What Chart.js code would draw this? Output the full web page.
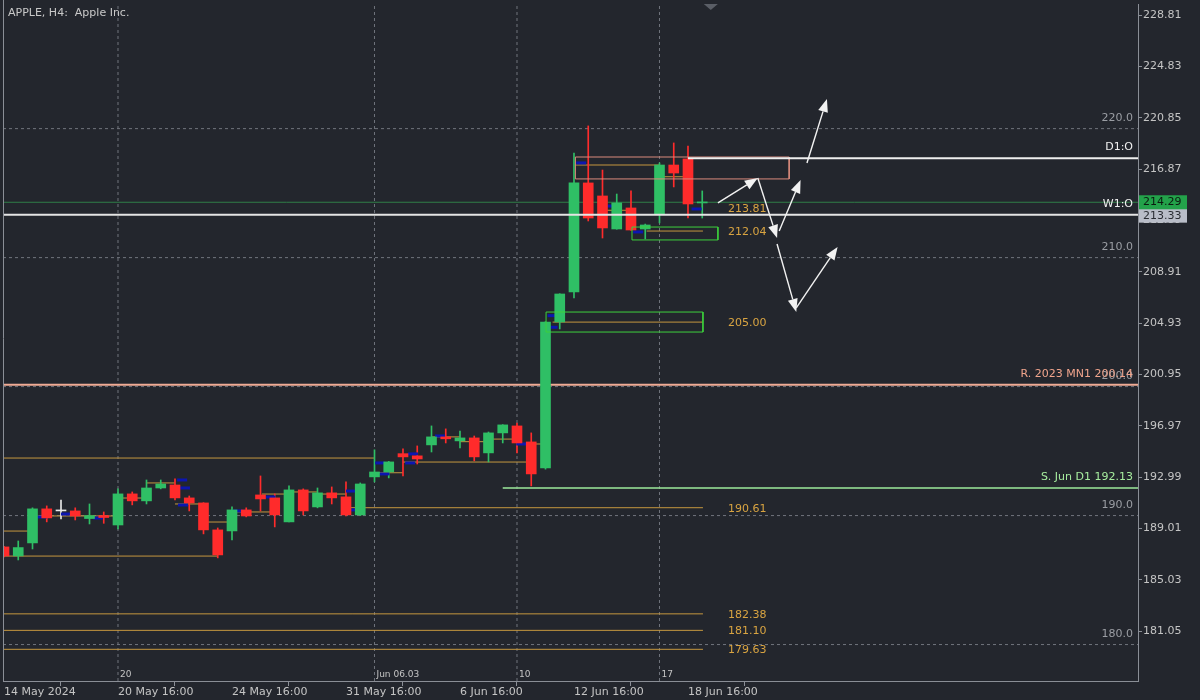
<!DOCTYPE html>
<html><head><meta charset="utf-8">
<script src="https://cdn.jsdelivr.net/npm/chart.js@4.4.1/dist/chart.umd.min.js"></script>
<style>html,body{margin:0;padding:0;background:#23262d;overflow:hidden;width:1200px;height:700px;position:relative}canvas{display:block;background:#23262d;position:absolute;left:-5px;top:-4px}</style>
</head><body>
<canvas id="c" width="1205" height="705"></canvas>
<script>
// ---------- DATA ----------
const opens  = [187.57,186.87,187.88,190.52,190.36,190.36,189.77,190.00,189.27,191.68,191.14,192.14,192.37,191.37,190.98,188.89,188.81,190.44,191.60,191.37,189.51,191.99,190.67,191.76,191.45,190.05,193.00,193.38,194.80,194.63,195.48,196.10,195.79,196.02,194.86,196.41,196.95,195.71,193.69,205.01,207.34,215.79,214.78,212.22,213.85,212.22,213.38,217.18,217.65,214.24];
const highs  = [187.62,188.03,190.60,190.75,191.21,190.60,190.90,190.28,192.07,191.83,192.76,192.76,192.84,191.52,191.00,189.04,190.67,190.60,193.07,191.68,192.30,192.07,192.14,192.22,192.61,192.53,195.10,194.20,195.17,195.40,196.95,196.72,196.56,196.17,196.48,197.05,197.18,196.41,205.03,207.20,218.11,220.21,216.79,214.93,215.17,212.60,217.34,218.89,218.65,215.17];
const lows   = [186.80,186.56,187.41,189.51,189.74,189.66,189.35,189.40,188.97,190.83,190.90,192.07,191.21,190.36,188.58,186.72,188.11,189.90,190.36,189.12,189.50,190.05,190.60,190.90,189.97,190.00,192.61,192.92,193.07,194.00,194.93,195.63,195.24,194.24,194.16,195.63,194.86,192.30,193.60,204.47,206.87,212.84,211.52,212.20,212.10,211.45,212.69,215.48,213.07,213.07];
const closes = [186.87,187.52,190.52,189.82,190.36,189.97,190.00,189.85,191.68,191.14,192.14,192.45,191.37,190.98,188.89,186.95,190.44,189.97,191.29,190.05,191.99,190.36,191.76,191.37,190.05,192.45,193.38,194.16,194.55,194.39,196.10,195.95,196.02,194.55,196.41,197.03,195.63,193.23,205.01,207.18,215.79,213.07,212.30,214.24,212.14,212.53,217.18,216.56,214.16,214.29];

const xTickIdx    = [0,8,16,24,32,40,48];
const xTickLabels = ['14 May 2024','20 May 16:00','24 May 16:00','31 May 16:00','6 Jun 16:00','12 Jun 16:00','18 Jun 16:00'];
const sepIdx      = [8,26,36,46];
const sepLabels   = ['20','Jun 06.03','10','17'];
const yTicks      = [181.05,185.03,189.01,192.99,196.97,200.95,204.93,208.91,212.89,216.87,220.85,224.83,228.81];
const gridLevels  = [180,190,200,210,220];

// orange segments: [fromIdx, toIdx, price]
const orangeSegs = [
 [-0.07,1.97,188.80],[1.97,7.93,189.97],[8,9.96,191.36],[9.96,12,192.53],[12,13.96,190.90],
 [13.96,16,189.50],[16,18.95,190.28],[18.1,19.93,191.67],[20,21.96,191.83],[21.96,24,191.67],
 [26,28,193.32],[28,37,194.15],[30,32,196.10],[32,34,195.73],[34,36,195.93],[36,38,195.55],
 [40.1,46,217.18],[46,48,216.27],[42,44,213.67],[45.1,49.05,212.06],[38.5,49.05,205.00],
 [-0.07,26,194.46],[-0.07,15,186.86],[24,49.05,190.61],
 [-0.07,49.05,182.38],[-0.07,49.05,181.10],[-0.07,49.05,179.63]
];
const levelLabels = [213.81,212.04,205.00,190.61,182.38,181.10,179.63];
const levelLabelIdx = 50.8;

const bidPrice = 214.29;
const w1Open = 213.33;
const d1Open = 217.70, d1From = 48;
const resPrice = 200.14;
const supPrice = 192.13, supFrom = 35;

// boxes: [x0, x1, topPrice, bottomPrice]
const salmonBox = [40.1,55.1,217.80,216.10];
const greenBoxes = [[44.07,50.1,212.37,211.37],[38.04,49.05,205.78,204.23]];

// arrows: [x0,p0,x1,p1]
const arrows = [
 [50.1,214.24,52.9,216.17],
 [52.9,216.17,54.25,211.52],
 [54.4,212.07,55.9,216.02],
 [54.25,211.06,55.6,205.79],
 [55.6,206.10,58.5,210.83],
 [56.35,217.34,57.75,222.30]
];

const blueMarks = [[2.67,189.89],[4.35,190.12],[6.6,189.81],[12.5,192.76],[12.7,192.14],[12.56,190.82],[16.4,190.36],[18.7,191.44],[24.35,191.9],[24.3,190.44],[26.4,194.08],[26.7,193.23],[28.5,194.08],[28.7,194.78],[30.6,196.17],[36.3,195.55],[40.5,217.34],[42.5,214.0],[44.5,211.99],[48.6,213.77],[38.5,205.5],[38.5,204.6]];

// ---------- CONFIG ----------
const X_MIN=-0.07, X_MAX=79.58, Y_MIN=177.174, Y_MAX=229.663;
const GREEN='#2fbf65', RED='#ff2b2b', DOJI='#e8e8e8';
const FONT='"DejaVu Sans", sans-serif';

function candleColor(i){ return closes[i]>opens[i]?GREEN:(closes[i]<opens[i]?RED:DOJI); }
function segPoints(segs){ const pts=[]; segs.forEach(([a,b,p])=>{pts.push({x:a,y:p},{x:b,y:p},{x:b,y:null});}); return pts; }
function boxPoints([x0,x1,t,b]){ return [{x:x0,y:t},{x:x1,y:t},{x:x1,y:b},{x:x0,y:b},{x:x0,y:t}]; }
function lineDs(data,color,width,extra){ return Object.assign({type:'line',data,borderColor:color,borderWidth:width,pointRadius:0,fill:false,spanGaps:false,tension:0},extra||{}); }

const idx = opens.map((_,i)=>i);
const datasets = [
  lineDs(gridLevels.flatMap(v=>[{x:X_MIN,y:v},{x:X_MAX,y:v},{x:X_MAX,y:null}]),'#70747c',1,{borderDash:[3,3],order:100}),
  lineDs(sepIdx.flatMap(v=>[{x:v,y:Y_MIN},{x:v,y:Y_MAX},{x:v,y:null}]),'#70747c',1,{borderDash:[3,3],order:100}),
  lineDs(segPoints(orangeSegs),'#c4963e',1,{order:60}),
  lineDs([{x:X_MIN,y:resPrice},{x:X_MAX,y:resPrice}],'#f0ab95',2,{order:55}),
  lineDs([{x:supFrom,y:supPrice},{x:X_MAX,y:supPrice}],'#9be89b',1.5,{order:55}),
  lineDs([{x:X_MIN,y:bidPrice},{x:X_MAX,y:bidPrice}],'#2f7d47',1,{order:55}),
  lineDs([{x:X_MIN,y:w1Open},{x:X_MAX,y:w1Open}],'#e4e4e4',2,{order:8}),
  lineDs([{x:d1From,y:d1Open},{x:X_MAX,y:d1Open}],'#eeeeee',2,{order:8}),
  lineDs(boxPoints(salmonBox),'#d98a7c',1,{order:9}),
  ...greenBoxes.map(b=>lineDs(boxPoints(b),'#3ccf3c',1,{order:9})),
  {type:'line',data:blueMarks.map(([x,y])=>({x,y})),showLine:false,pointStyle:'line',pointRadius:5,pointBorderWidth:3,pointBorderColor:'#0c16b0',pointBackgroundColor:'#0c16b0',order:15},
  {type:'bar',data:idx.map(i=>({x:i,y:[lows[i],highs[i]]})),backgroundColor:c=>candleColor(c.dataIndex),barThickness:1,grouped:false,order:20},
  {type:'bar',data:idx.map(i=>({x:i,y:[opens[i],closes[i]]})),backgroundColor:c=>candleColor(c.dataIndex),barThickness:10,minBarLength:1,grouped:false,order:10}
];

const overlay = {
  id:'overlay',
  afterDatasetsDraw(chart){
    const {ctx, chartArea:a, scales:{x,y}} = chart;
    ctx.save();
    ctx.beginPath(); ctx.rect(a.left,a.top,a.right-a.left,a.bottom-a.top); ctx.clip();
    ctx.strokeStyle='#f2f2f2'; ctx.fillStyle='#f2f2f2'; ctx.lineWidth=1.4;
    arrows.forEach(([x0,p0,x1,p1])=>{
      const X0=x.getPixelForValue(x0),Y0=y.getPixelForValue(p0),X1=x.getPixelForValue(x1),Y1=y.getPixelForValue(p1);
      const ang=Math.atan2(Y1-Y0,X1-X0),L=13,W=5;
      const bx=X1-L*Math.cos(ang),by=Y1-L*Math.sin(ang);
      ctx.beginPath();ctx.moveTo(X0,Y0);ctx.lineTo(bx,by);ctx.stroke();
      ctx.beginPath();ctx.moveTo(X1,Y1);ctx.lineTo(bx+W*Math.sin(ang),by-W*Math.cos(ang));ctx.lineTo(bx-W*Math.sin(ang),by+W*Math.cos(ang));ctx.closePath();ctx.fill();
    });
    ctx.font='11px '+FONT; ctx.textBaseline='middle'; ctx.textAlign='left'; ctx.fillStyle='#d9a441';
    levelLabels.forEach(p=>ctx.fillText(p.toFixed(2),x.getPixelForValue(levelLabelIdx),y.getPixelForValue(p)+1));
    ctx.textAlign='right';
    const rx=a.right-5;
    ctx.fillStyle='#9a9da3';
    gridLevels.forEach(v=>ctx.fillText(v.toFixed(1),rx,y.getPixelForValue(v)-10));
    const rl=[['D1:O',d1Open,'#f0f0f0'],['W1:O',w1Open,'#f0f0f0'],['R. 2023 MN1 '+resPrice.toFixed(2),resPrice,'#f0a48c'],['S. Jun D1 '+supPrice.toFixed(2),supPrice,'#a6ec9e']];
    rl.forEach(([t,p,c])=>{ctx.fillStyle=c;ctx.fillText(t,rx,y.getPixelForValue(p)-11);});
    ctx.font='9px '+FONT; ctx.textAlign='left'; ctx.fillStyle='#c4c4c4';
    sepIdx.forEach((v,i)=>ctx.fillText(sepLabels[i],x.getPixelForValue(v)+2,a.bottom-6));
    ctx.restore();
  },
  afterDraw(chart){
    const {ctx, chartArea:a, scales:{x,y}} = chart;
    ctx.save();
    ctx.font='11px '+FONT; ctx.textBaseline='middle'; ctx.textAlign='left';
    const bx=a.right+1;
    let py=y.getPixelForValue(w1Open)+1;
    ctx.fillStyle='#b9bdc8'; ctx.fillRect(bx,py-7,48,14);
    ctx.fillStyle='#2a2d33'; ctx.fillText(w1Open.toFixed(2),bx+4,py);
    py=y.getPixelForValue(bidPrice);
    ctx.fillStyle='#23a24a'; ctx.fillRect(bx,py-7,48,14);
    ctx.fillStyle='#0c1a10'; ctx.fillText(bidPrice.toFixed(2),bx+4,py);
    ctx.fillStyle='#c8c8c8'; ctx.textBaseline='alphabetic';
    ctx.fillText('APPLE, H4:  Apple Inc.',a.left+5,a.top+12);
    const tx=x.getPixelForValue(49.6);
    ctx.fillStyle='#5a5e66'; ctx.beginPath(); ctx.moveTo(tx-7,a.top); ctx.lineTo(tx+7,a.top); ctx.lineTo(tx,a.top+6); ctx.closePath(); ctx.fill();
    ctx.strokeStyle='#8a8e96'; ctx.lineWidth=1;
    ctx.beginPath(); ctx.moveTo(a.left+0.5,0); ctx.lineTo(a.left+0.5,a.bottom); ctx.stroke();
    ctx.restore();
  }
};

new Chart(document.getElementById('c'),{
  type:'bar',
  data:{datasets},
  options:{
    responsive:false, animation:false, devicePixelRatio:1,
    layout:{padding:{left:3,top:3,right:0,bottom:0}},
    plugins:{legend:{display:false},tooltip:{enabled:false}},
    scales:{
      x:{type:'linear',min:X_MIN,max:X_MAX,offset:false,
        afterBuildTicks:s=>{s.ticks=xTickIdx.map(v=>({value:v}));},
        afterFit:s=>{s.height=20;},
        ticks:{autoSkip:false,maxRotation:0,align:'start',padding:0,color:'#c4c4c4',font:{family:FONT,size:11},callback:(v,i)=>xTickLabels[i]},
        grid:{display:true,drawOnChartArea:false,drawTicks:true,tickLength:5,color:'#8a8e96'},
        border:{display:true,color:'#8a8e96'}},
      y:{type:'linear',position:'right',min:Y_MIN,max:Y_MAX,
        afterBuildTicks:s=>{s.ticks=yTicks.map(v=>({value:v}));},
        afterFit:s=>{s.width=62;},
        ticks:{autoSkip:false,padding:1,color:'#c4c4c4',font:{family:FONT,size:11},callback:v=>Number(v).toFixed(2)},
        grid:{display:true,drawOnChartArea:false,drawTicks:true,tickLength:4,color:'#8a8e96'},
        border:{display:true,color:'#8a8e96'}}
    }
  },
  plugins:[overlay]
});
</script>
</body></html>
